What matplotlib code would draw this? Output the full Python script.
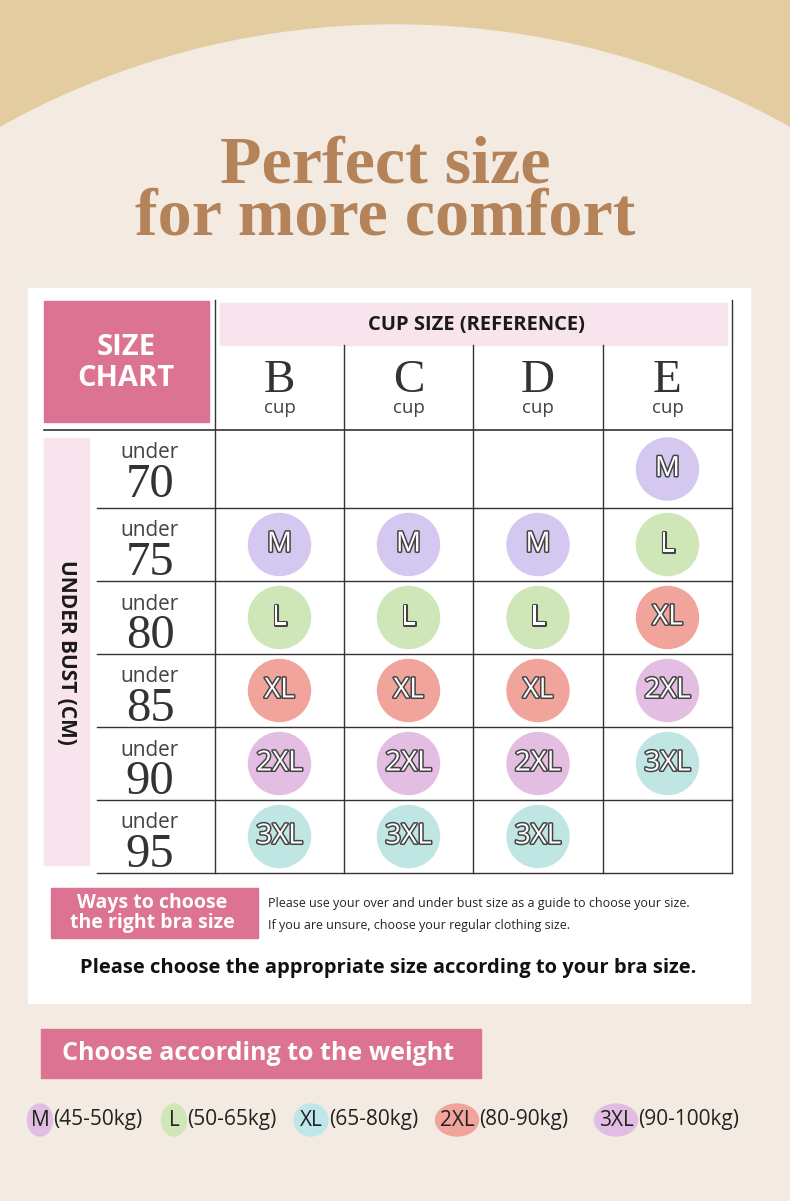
import matplotlib
matplotlib.use('Agg')
import matplotlib.pyplot as plt
from matplotlib.patches import Rectangle, Circle, Ellipse
import matplotlib.patheffects as pe

W, H = 790, 1201
BG = '#f3ebe2'
TAN = '#e3cc9f'
PINK = '#dc7393'
LIGHT_PINK = '#f7e4ec'

cups = ['B', 'C', 'D', 'E']
under_bust = ['70', '75', '80', '85', '90', '95']
grid = [
    ['', '', '', 'M'],
    ['M', 'M', 'M', 'L'],
    ['L', 'L', 'L', 'XL'],
    ['XL', 'XL', 'XL', '2XL'],
    ['2XL', '2XL', '2XL', '3XL'],
    ['3XL', '3XL', '3XL', ''],
]
size_colors = {'M': '#d4c7f0', 'L': '#cfe6b8', 'XL': '#f0a49b', '2XL': '#e4bee2', '3XL': '#bfe6e3'}

legend_sizes = ['M', 'L', 'XL', '2XL', '3XL']
legend_ranges = ['(45-50kg)', '(50-65kg)', '(65-80kg)', '(80-90kg)', '(90-100kg)']
legend_colors = ['#e2bde3', '#cfe6b8', '#bfe6ea', '#f0a49b', '#e2bde3']
legend_x = [40, 174, 311, 457, 616]

fig = plt.figure(figsize=(7.9, 12.01), dpi=100)
ax = fig.add_axes([0, 0, 1, 1])
ax.set_xlim(0, W)
ax.set_ylim(H, 0)
ax.axis('off')
fig.patch.set_facecolor(BG)

# top arc + bottom strip
ax.add_patch(Rectangle((0, 0), W, 140, color=TAN, zorder=0))
ax.add_patch(Ellipse((395, 760), 1550, 1470, color=BG, zorder=0.5))
ax.add_patch(Rectangle((0, 1193), W, 8, color=TAN, zorder=0))

title_kw = dict(ha='center', va='center', color='#b5835a', fontsize=49,
                family='Liberation Serif', weight='bold')
ax.text(385, 166, 'Perfect size', **title_kw)
ax.text(385, 218, 'for more comfort', **title_kw)

# white panel
ax.add_patch(Rectangle((28, 288), 722, 715, color='white', zorder=1))
ax.add_patch(Rectangle((44, 301), 165, 121, color=PINK, zorder=2))
ax.text(126, 363, 'SIZE\nCHART', ha='center', va='center', color='white', fontsize=21,
        weight='bold', family='Open Sans', linespacing=1.05, zorder=3)
ax.add_patch(Rectangle((220, 303), 507, 42, color=LIGHT_PINK, zorder=2))
ax.text(476, 325, 'CUP SIZE (REFERENCE)', ha='center', va='center', color='#1a1a1a',
        fontsize=14.5, weight='bold', family='Open Sans', zorder=3)

col_edges = [215, 344, 473, 603, 732]
row_edges = [430, 508, 581, 654, 727, 800, 873]
for i, x in enumerate(col_edges):
    ax.plot([x, x], [300 if i in (0, 4) else 345, 873], color='#333', lw=1, zorder=3)
ax.plot([44, 732], [430, 430], color='#333', lw=1.2, zorder=3)
for y in row_edges[1:]:
    ax.plot([97, 732], [y, y], color='#333', lw=1, zorder=3)

for j, c in enumerate(cups):
    cx = (col_edges[j] + col_edges[j + 1]) / 2
    ax.text(cx, 381, c, ha='center', va='center', fontsize=34, family='Liberation Serif',
            color='#333', zorder=3)
    ax.text(cx, 408, 'cup', ha='center', va='center', fontsize=13.5, family='Open Sans',
            color='#444', zorder=3)

ax.add_patch(Rectangle((44, 438), 45, 427, color=LIGHT_PINK, zorder=2))
ax.text(66, 652, 'UNDER BUST (CM)', rotation=-90, ha='center', va='center', fontsize=15,
        weight='bold', family='Open Sans', color='#1a1a1a', zorder=3)

for i, r in enumerate(under_bust):
    y0, y1 = row_edges[i], row_edges[i + 1]
    ax.text(150, y0 + 23, 'under', ha='center', va='center', fontsize=15,
            family='Open Sans', color='#444', zorder=3)
    ax.text(150, y0 + 55, r, ha='center', va='center', fontsize=35,
            family='Liberation Serif', color='#333', zorder=3)
    for j, s in enumerate(grid[i]):
        if not s:
            continue
        cx = (col_edges[j] + col_edges[j + 1]) / 2
        cy = (y0 + y1) / 2
        ax.add_patch(Circle((cx, cy), 31, color=size_colors[s], zorder=3))
        ax.text(cx, cy, s, ha='center', va='center', fontsize=20, color='white',
                family='Open Sans', zorder=4,
                path_effects=[pe.withStroke(linewidth=2.2, foreground='#444')])

# ways box
ax.add_patch(Rectangle((51, 888), 207, 50, color=PINK, zorder=2))
ax.text(152, 913, 'Ways to choose\nthe right bra size', ha='center', va='center',
        color='white', fontsize=14, weight='bold', family='Open Sans',
        linespacing=1.0, zorder=3)
ax.text(268, 903, 'Please use your over and under bust size as a guide to choose your size.',
        ha='left', va='center', fontsize=9, family='Open Sans', color='#222', zorder=3)
ax.text(268, 925, 'If you are unsure, choose your regular clothing size.',
        ha='left', va='center', fontsize=9, family='Open Sans', color='#222', zorder=3)
ax.text(388, 968, 'Please choose the appropriate size according to your bra size.',
        ha='center', va='center', fontsize=14.5, weight='bold', family='Open Sans',
        color='#111', zorder=3)

# weight banner
ax.add_patch(Rectangle((41, 1029), 440, 49, color=PINK, zorder=2))
ax.text(62, 1054, 'Choose according to the weight', ha='left', va='center',
        color='white', fontsize=18, weight='bold', family='Open Sans', zorder=3)

for s, rng, col, x in zip(legend_sizes, legend_ranges, legend_colors, legend_x):
    w = 16 + 9 * len(s)
    ax.add_patch(Ellipse((x, 1120), w, 32, color=col, zorder=2))
    ax.text(x, 1120, s, ha='center', va='center', fontsize=15, family='Open Sans',
            color='#222', zorder=3)
    ax.text(x + w / 2 + 1, 1120, rng, ha='left', va='center', fontsize=15,
            family='Open Sans', color='#222', zorder=3)

fig.savefig('out.png', dpi=100, facecolor=BG)
